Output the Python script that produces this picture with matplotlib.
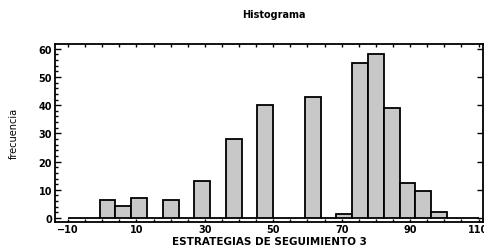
import numpy as np
import matplotlib
matplotlib.use("Agg")
import matplotlib.pyplot as plt
from matplotlib.ticker import MultipleLocator

# histogram: 26 bins from -10 to 110
bin_start, bin_end, n_bins = -10, 110, 26
counts = [0, 0, 6.4, 4.4, 7.2, 0, 6.4, 0, 13, 0, 28, 0, 40, 0, 0, 43,
          0, 1.6, 55, 58, 39, 12.4, 9.5, 2.2, 0, 0]
title = "Histograma"
xlabel = "ESTRATEGIAS DE SEGUIMIENTO 3"
ylabel = "frecuencia"

edges = np.linspace(bin_start, bin_end, n_bins + 1)
width = edges[1] - edges[0]

fig = plt.figure(figsize=(4.85, 2.53), dpi=100)
ax = fig.add_axes([55/485, 1 - 222.7/253, (483-55)/485, (222.7-45)/253])

ax.bar(edges[:-1], counts, width=width, align="edge", color="#c8c8c8",
       edgecolor="black", linewidth=1.3, zorder=2)

ax.set_xlim(-13.8, 111.3)
ax.set_ylim(-1.3, 61.7)
ax.set_xticks(np.arange(-10, 111, 20))
ax.xaxis.set_minor_locator(MultipleLocator(5))
ax.yaxis.set_major_locator(MultipleLocator(10))
ax.yaxis.set_minor_locator(MultipleLocator(2))
ax.tick_params(which="both", direction="in", top=True, right=True,
               labelsize=7, pad=2, width=1)
ax.tick_params(axis="y", which="minor", right=False)
ax.tick_params(axis="y", which="major", length=4)
ax.tick_params(axis="y", which="minor", length=2.5)
ax.tick_params(axis="x", which="both", length=2.5)
for lab in ax.get_xticklabels() + ax.get_yticklabels():
    lab.set_fontweight("bold")
for s in ax.spines.values():
    s.set_linewidth(1.3)

ax.set_xlabel(xlabel, fontsize=7.5, fontweight="bold", labelpad=1)
ax.set_ylabel(ylabel, fontsize=7, labelpad=14)
fig.text(274/485, 1 - 15/253, title, ha="center", va="center",
         fontsize=7, fontweight="bold")

fig.savefig("out.png", dpi=100)
